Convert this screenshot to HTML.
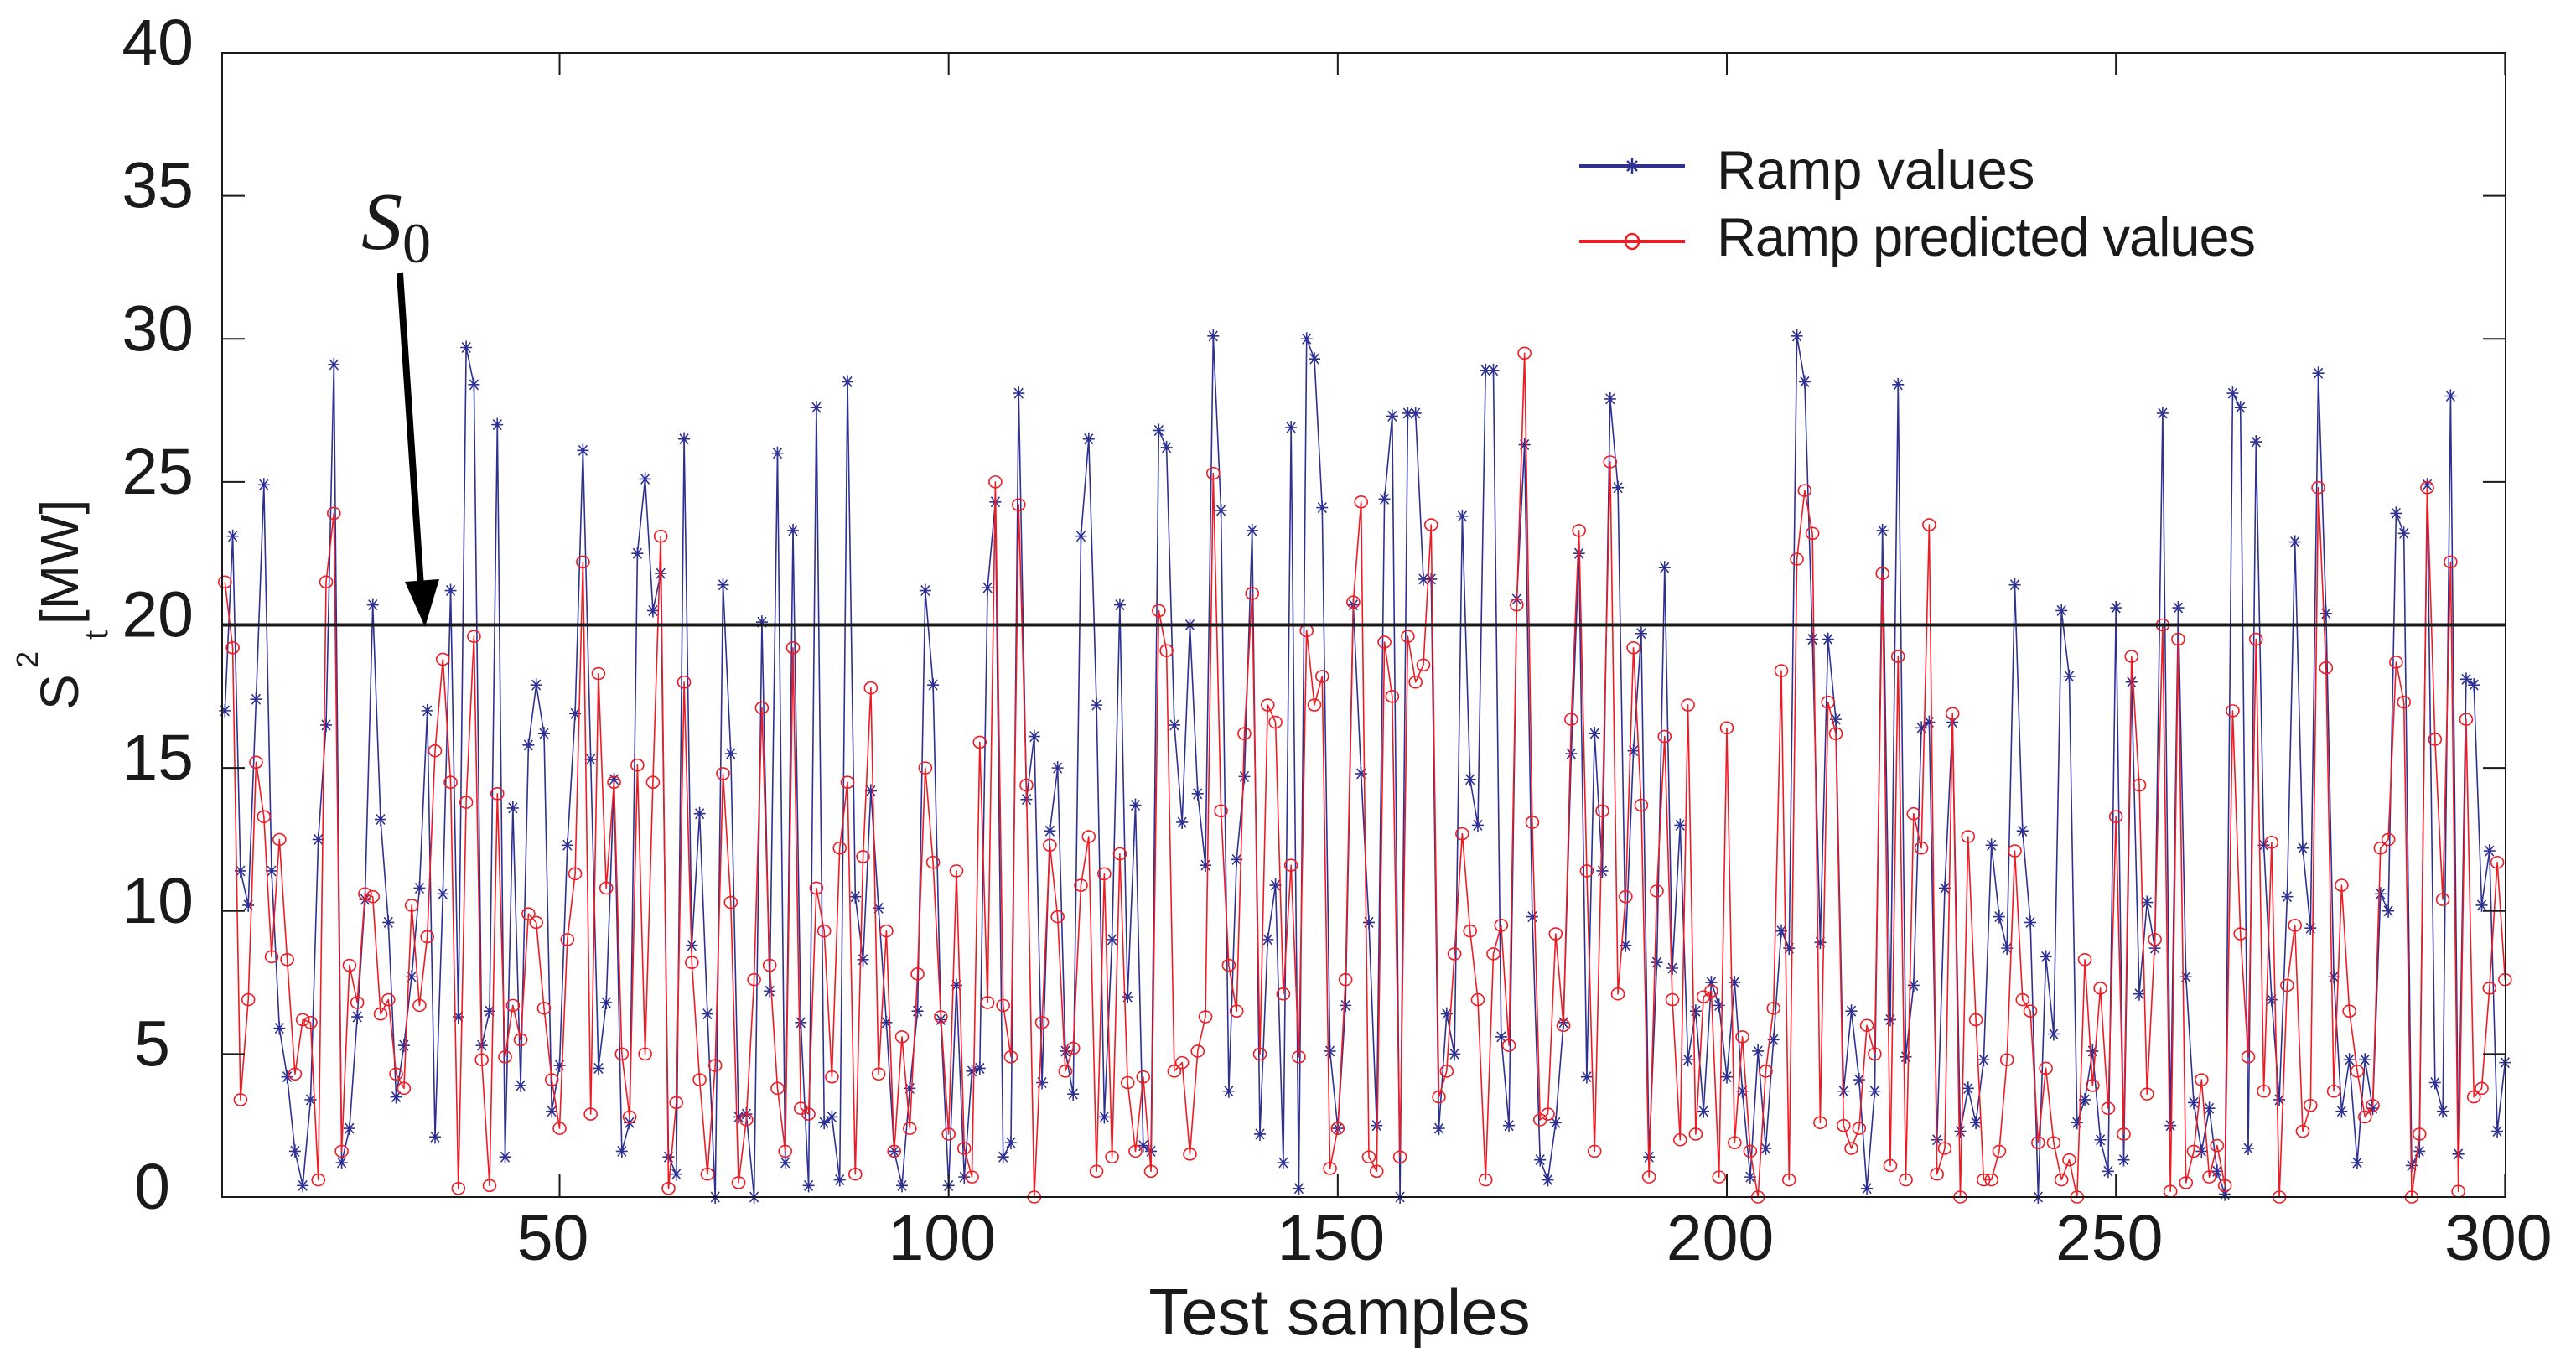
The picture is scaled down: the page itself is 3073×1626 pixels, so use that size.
<!DOCTYPE html>
<html><head><meta charset="utf-8"><title>Ramp values chart</title>
<style>
html,body{margin:0;padding:0;background:#fff;}
svg{display:block;}
text{font-family:"Liberation Sans",sans-serif;fill:#1a1a1a;}
</style></head>
<body>
<svg id="chart" xmlns="http://www.w3.org/2000/svg" width="3073" height="1626" viewBox="0 0 3073 1626">
  <rect x="0" y="0" width="3073" height="1626" fill="#fff"/>
  <g id="plot"></g>
  <g id="axes"></g>
  <g>
    <g>
      <line x1="1884" y1="198" x2="2010" y2="198" stroke="#2e3192" stroke-width="4"/>
      <g stroke="#2e3192" stroke-width="2.5">
        <line x1="1947" y1="189" x2="1947" y2="207"/><line x1="1941" y1="192" x2="1953" y2="204"/><line x1="1941" y1="204" x2="1953" y2="192"/>
      </g>
      <text x="2048" y="225" font-size="65">Ramp values</text>
    </g>
    <g>
      <line x1="1884" y1="288" x2="2010" y2="288" stroke="#ed1c24" stroke-width="4"/>
      <ellipse cx="1947" cy="288" rx="8" ry="9" fill="none" stroke="#ed1c24" stroke-width="2.5"/>
      <text x="2048" y="305" font-size="65" textLength="643">Ramp predicted values</text>
    </g>
  </g>
  <g>
    <text x="431" y="297" font-style="italic" font-size="98" style="font-family:'Liberation Serif',serif">S</text>
    <text x="480" y="313" font-size="68" style="font-family:'Liberation Serif',serif">0</text>
    <line x1="477" y1="326" x2="502" y2="700" stroke="#000" stroke-width="8"/>
    <polygon points="483,694 524,691 507,748" fill="#000"/>
  </g>
  <g transform="translate(93,847) rotate(-90)">
    <text x="0" y="0" font-size="64">S</text>
    <text x="50" y="-48" font-size="36">2</text>
    <text x="84" y="35" font-size="40">t</text>
    <text x="102" y="0" font-size="64">[MW]</text>
  </g>
  <text x="1598" y="1592" font-size="78" text-anchor="middle">Test samples</text>
</svg>
<script>
const blueValues = [17.0,23.1,11.4,10.2,17.4,24.9,11.4,5.9,4.2,1.6,0.4,3.4,12.5,16.5,29.1,1.2,2.4,6.3,10.4,20.7,13.2,9.6,3.5,5.3,7.7,10.8,17.0,2.1,10.6,21.2,6.3,29.7,28.4,5.3,6.5,27.0,1.4,13.6,3.9,15.8,17.9,16.2,3.0,4.6,12.3,16.9,26.1,15.3,4.5,6.8,14.6,
1.6,2.6,22.5,25.1,20.5,21.8,1.4,0.8,26.5,8.8,13.4,6.4,0,21.4,15.5,2.8,2.9,0,20.1,7.2,26.0,1.2,23.3,6.1,0.4,27.6,2.6,2.8,0.6,28.5,10.5,8.3,14.2,10.1,6.1,1.6,0.4,3.8,6.5,21.2,17.9,6.2,0.4,7.4,0.7,4.4,4.5,21.3,24.3,
1.4,1.9,28.1,13.9,16.1,4.0,12.8,15.0,5.1,3.6,23.1,26.5,17.2,2.8,9.0,20.7,7.0,13.7,1.8,1.6,26.8,26.2,16.5,13.1,20.0,14.1,11.6,30.1,24.0,3.7,11.8,14.7,23.3,2.2,9.0,10.9,1.2,26.9,0.3,30.0,29.3,24.1,5.1,2.4,6.7,20.7,14.8,9.6,2.5,24.4,27.3,
0,27.4,27.4,21.6,21.6,2.4,6.4,5.0,23.8,14.6,13.0,28.9,28.9,5.6,2.5,20.9,26.3,9.8,1.3,0.6,2.6,6.1,15.5,22.5,4.2,16.2,11.4,27.9,24.8,8.8,15.6,19.7,1.4,8.2,22.0,8.0,13.0,4.8,6.5,3.0,7.5,6.7,4.2,7.5,3.7,0.7,5.1,1.7,5.5,9.3,
8.7,30.1,28.5,19.5,8.9,19.5,16.7,3.7,6.5,4.1,0.3,3.7,23.3,6.2,28.4,4.9,7.4,16.4,16.6,2.0,10.8,16.6,2.3,3.8,2.6,4.8,12.3,9.8,8.7,21.4,12.8,9.6,0,8.4,5.7,20.5,18.2,2.6,3.4,5.1,2.0,0.9,20.6,1.3,18.0,7.1,10.3,8.7,27.4,2.5,
20.6,7.7,3.3,1.6,3.1,0.9,0.1,28.1,27.6,1.7,26.4,12.3,6.9,3.4,10.5,22.9,12.2,9.4,28.8,20.4,7.7,3.0,4.8,1.2,4.8,3.1,10.6,10.0,23.9,23.2,1.1,1.6,24.9,4.0,3.0,28.0,1.5,18.1,17.9,10.2,12.1,2.3,4.7];
const redValues = [21.5,19.2,3.4,6.9,15.2,13.3,8.4,12.5,8.3,4.3,6.2,6.1,0.6,21.5,23.9,1.6,8.1,6.8,10.6,10.5,6.4,6.9,4.3,3.8,10.2,6.7,9.1,15.6,18.8,14.5,0.3,13.8,19.6,4.8,0.4,14.1,4.9,6.7,5.5,9.9,9.6,6.6,4.1,2.4,9.0,11.3,22.2,2.9,18.3,10.8,14.5,
5.0,2.8,15.1,5.0,14.5,23.1,0.3,3.3,18.0,8.2,4.1,0.8,4.6,14.8,10.3,0.5,2.7,7.6,17.1,8.1,3.8,1.6,19.2,3.1,2.9,10.8,9.3,4.2,12.2,14.5,0.8,11.9,17.8,4.3,9.3,1.6,5.6,2.4,7.8,15.0,11.7,6.3,2.2,11.4,1.7,0.7,15.9,6.8,25.0,
6.7,4.9,24.2,14.4,0,6.1,12.3,9.8,4.4,5.2,10.9,12.6,0.9,11.3,1.4,12.0,4.0,1.6,4.2,0.9,20.5,19.1,4.4,4.7,1.5,5.1,6.3,25.3,13.5,8.1,6.5,16.2,21.1,5.0,17.2,16.6,7.1,11.6,4.9,19.8,17.2,18.2,1.0,2.4,7.6,20.8,24.3,1.4,0.9,19.4,17.5,
1.4,19.6,18.0,18.6,23.5,3.5,4.4,8.5,12.7,9.3,6.9,0.6,8.5,9.5,5.3,20.7,29.5,13.1,2.7,2.9,9.2,6.0,16.7,23.3,11.4,1.6,13.5,25.7,7.1,10.5,19.2,13.7,0.7,10.7,16.1,6.9,2.0,17.2,2.2,7.0,7.2,0.7,16.4,1.9,5.6,1.6,0,4.4,6.6,18.4,
0.6,22.3,24.7,23.2,2.6,17.3,16.2,2.5,1.7,2.4,6.0,5.0,21.8,1.1,18.9,0.6,13.4,12.2,23.5,0.8,1.7,16.9,0,12.6,6.2,0.6,0.6,1.6,4.8,12.1,6.9,6.5,1.9,4.5,1.9,0.6,1.3,0,8.3,3.9,7.3,3.1,13.3,2.2,18.9,14.4,3.6,9.0,20.0,0.2,
19.5,0.5,1.6,4.1,0.7,1.8,0.4,17.0,9.2,4.9,19.5,3.7,12.4,0,7.4,9.5,2.3,3.2,24.8,18.5,3.7,10.9,6.5,4.4,2.8,3.2,12.2,12.5,18.7,17.3,0,2.2,24.8,16.0,10.4,22.2,0.2,16.7,3.5,3.8,7.3,11.7,7.6];
const firstSample = 7;
const thresholdValue = 20;
const xTicks = [50,100,150,200,250,300];
const yTicks = [0,5,10,15,20,25,30,35,40];

const NS = "http://www.w3.org/2000/svg";
const L = 265, R = 2989, T = 63, B = 1428;
const xMin = 6.64, xMax = 300.07, yMin = 0, yMax = 40;
function sx(v){ return L + (v - xMin) / (xMax - xMin) * (R - L); }
function sy(v){ return B - (v - yMin) / (yMax - yMin) * (B - T); }
function mk(tag, attrs, parent){
  const e = document.createElementNS(NS, tag);
  for (const k in attrs) e.setAttribute(k, attrs[k]);
  parent.appendChild(e);
  return e;
}
const plot = document.getElementById('plot');
const axes = document.getElementById('axes');

function drawSeries(values, color, kind, name){
  const g = mk('g', {}, plot);
  
  
  const pts = values.map((v, k) => sx(firstSample + k).toFixed(1) + ',' + sy(v).toFixed(1)).join(' ');
  const line = mk('polyline', {points: pts, fill: 'none', stroke: color, 'stroke-width': 1.6, 'stroke-linejoin': 'round'}, g);
  
  
  values.forEach((v, k) => {
    const cx = sx(firstSample + k), cy = sy(v);
    if (kind === 'star') {
      const m = mk('path', {d: `M${cx-7},${cy}H${cx+7}M${cx},${cy-8}V${cy+8}M${cx-5},${cy-6}L${cx+5},${cy+6}M${cx-5},${cy+6}L${cx+5},${cy-6}`, stroke: color, 'stroke-width': 1.6, fill: 'none'}, g);
      
      
    } else {
      const m = mk('ellipse', {cx: cx, cy: cy, rx: 7.5, ry: 7, fill: 'none', stroke: color, 'stroke-width': 1.6}, g);
      
      
    }
  });
}
drawSeries(blueValues, '#2e3192', 'star', 'ramp-values');
drawSeries(redValues, '#ed1c24', 'circle', 'ramp-predicted');

const th = mk('line', {x1: L, x2: R, y1: sy(thresholdValue), y2: sy(thresholdValue), stroke: '#1a1a1a', 'stroke-width': 4}, plot);



const box = mk('rect', {x: L, y: T, width: R - L, height: B - T, fill: 'none', stroke: '#1a1a1a', 'stroke-width': 2}, axes);



xTicks.forEach(t => {
  const x = sx(t);
  const tk = mk('path', {d: `M${x},${B}V${B-27}M${x},${T}V${T+27}`, stroke: '#1a1a1a', 'stroke-width': 2}, axes);
  
  
  const lb = mk('text', {x: x - 8, y: 1503, 'font-size': 77, 'text-anchor': 'middle'}, axes);
  lb.textContent = t;
  
  
});
yTicks.forEach(t => {
  const y = sy(t);
  const tk = mk('path', {d: `M${L},${y}H${L+27}M${R},${y}H${R-27}`, stroke: '#1a1a1a', 'stroke-width': 2}, axes);
  
  
  const lb = mk('text', {x: t < 10 ? 203 : 231, y: y + 14, 'font-size': 77, 'text-anchor': 'end'}, axes);
  lb.textContent = t;
  
  
});
</script>
</body></html>
